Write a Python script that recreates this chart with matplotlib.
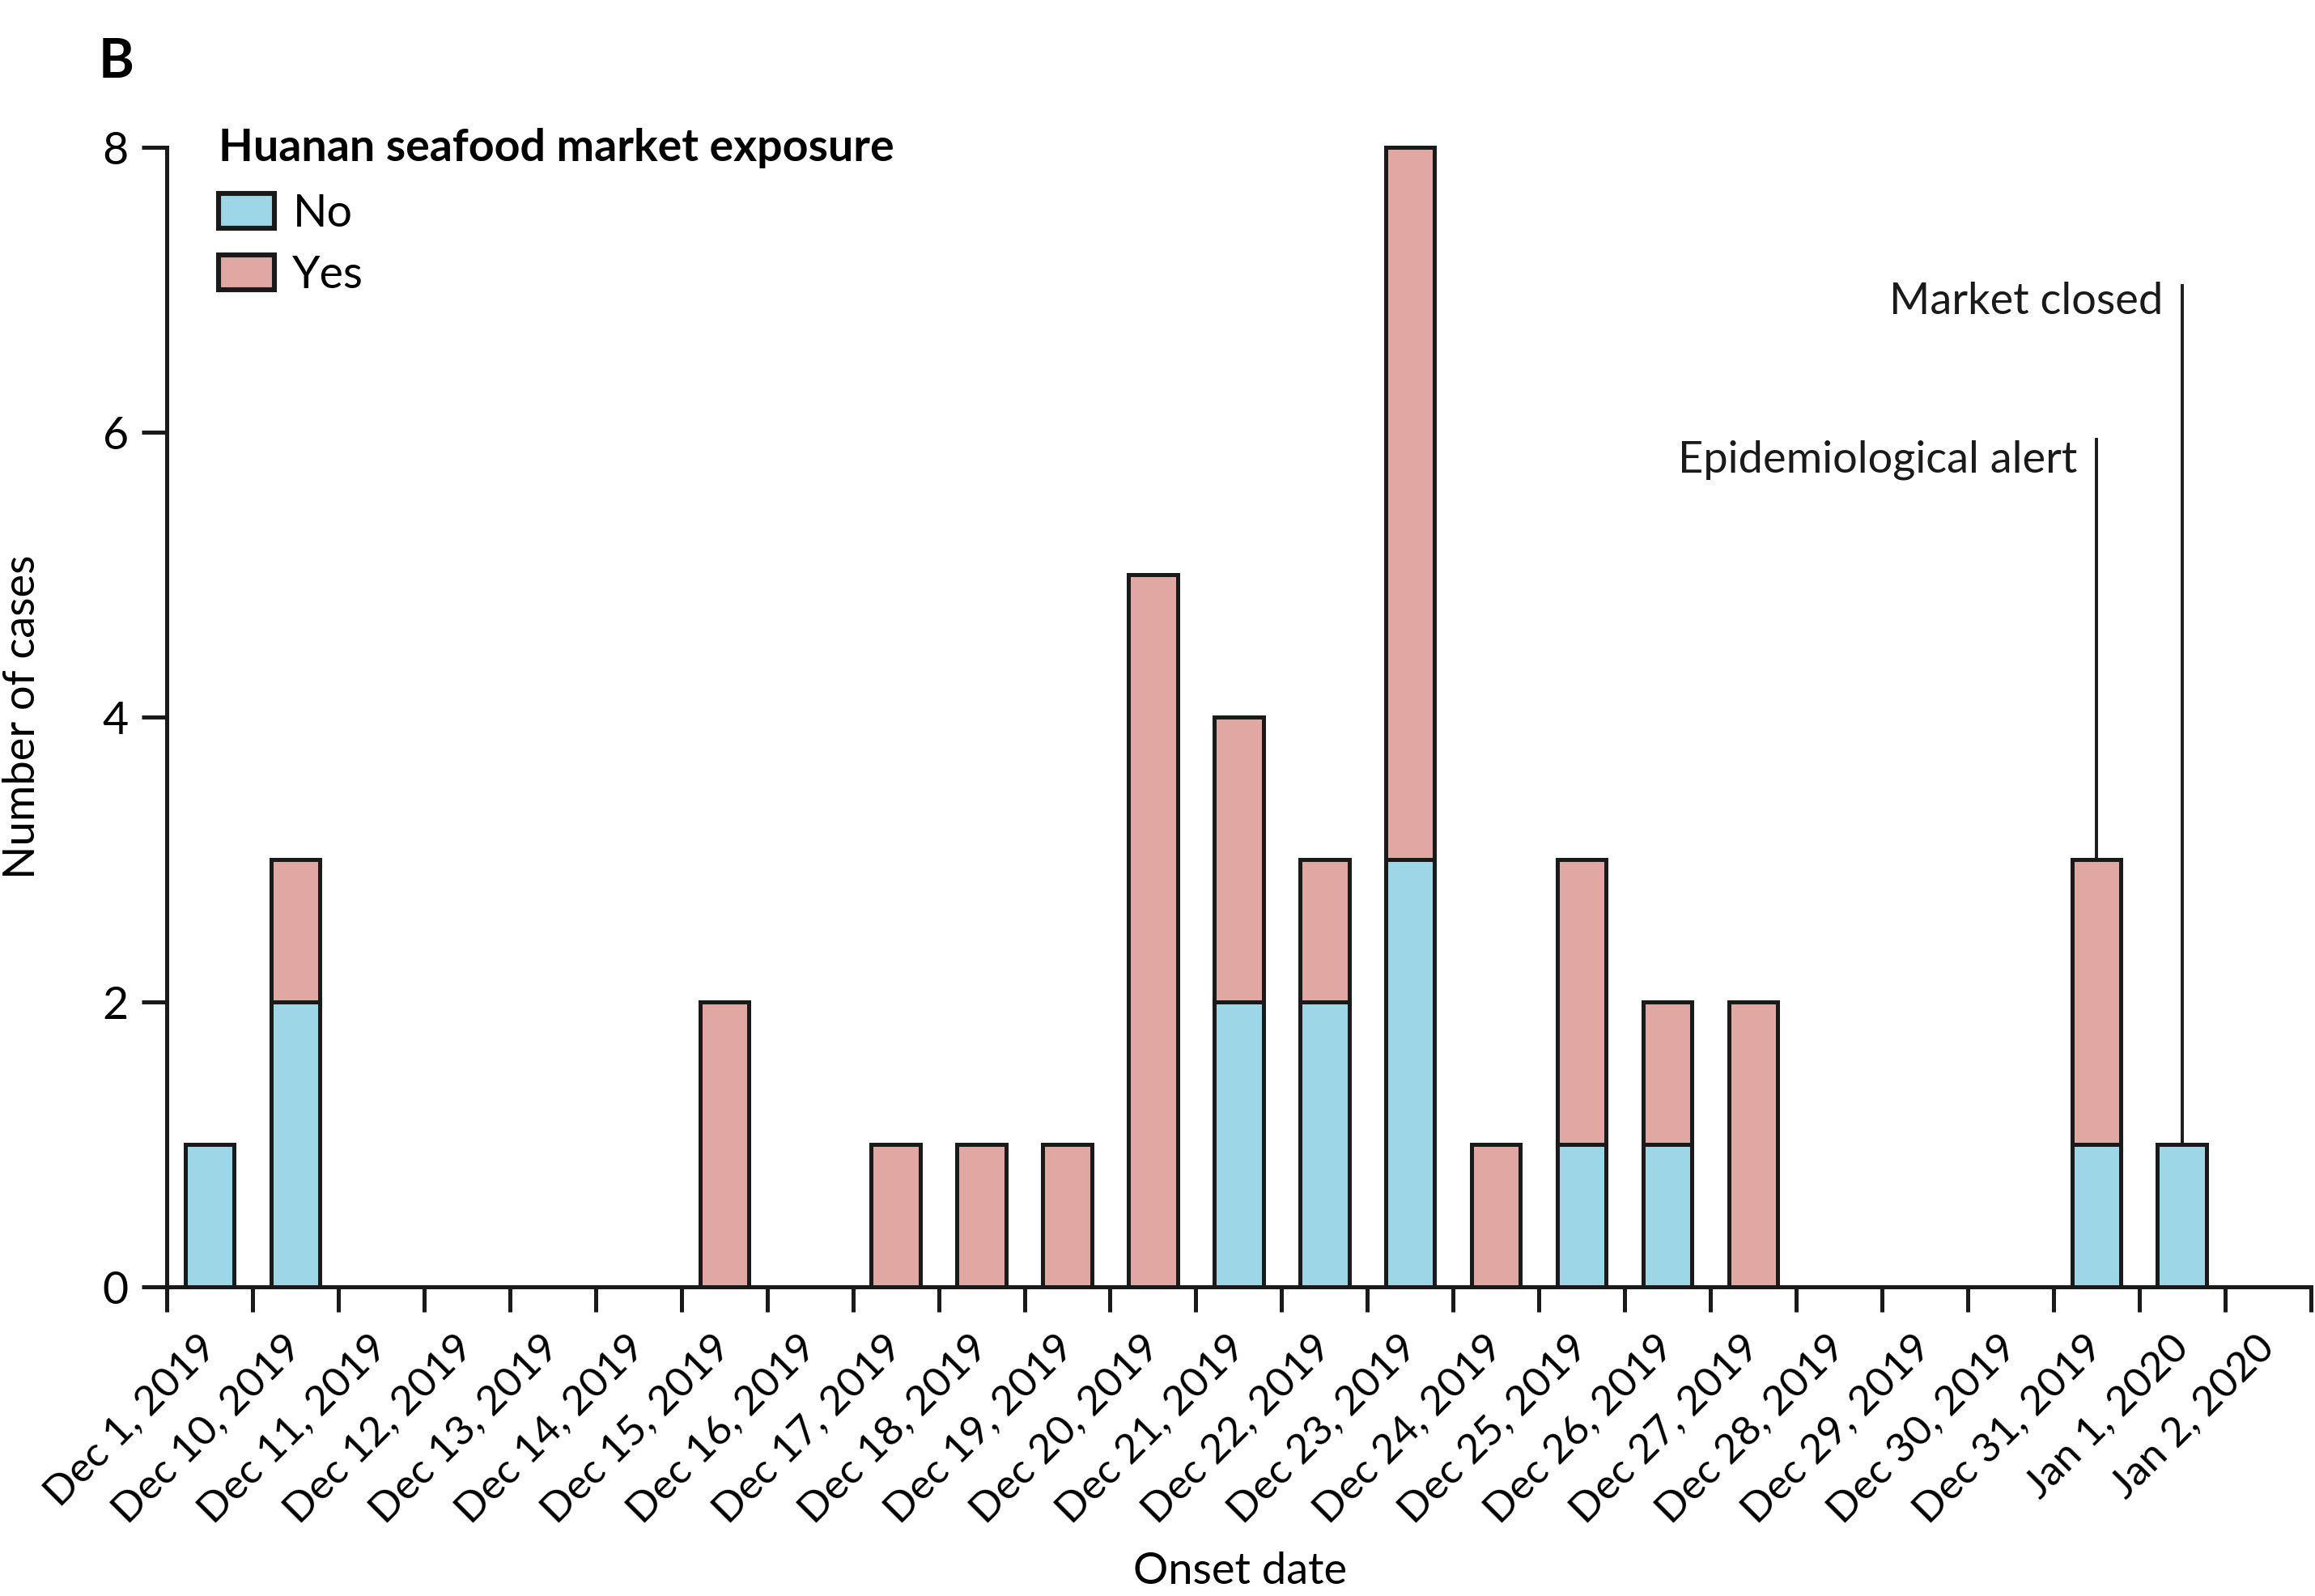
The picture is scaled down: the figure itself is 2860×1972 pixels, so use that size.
import matplotlib
matplotlib.use("Agg")
import matplotlib.pyplot as plt
import numpy as np

plt.rcParams['font.family'] = ['Lato', 'DejaVu Sans']

dates = ['Dec 1, 2019', 'Dec 10, 2019', 'Dec 11, 2019', 'Dec 12, 2019', 'Dec 13, 2019',
         'Dec 14, 2019', 'Dec 15, 2019', 'Dec 16, 2019', 'Dec 17, 2019', 'Dec 18, 2019',
         'Dec 19, 2019', 'Dec 20, 2019', 'Dec 21, 2019', 'Dec 22, 2019', 'Dec 23, 2019',
         'Dec 24, 2019', 'Dec 25, 2019', 'Dec 26, 2019', 'Dec 27, 2019', 'Dec 28, 2019',
         'Dec 29, 2019', 'Dec 30, 2019', 'Dec 31, 2019', 'Jan 1, 2020', 'Jan 2, 2020']
no_exposure = [1, 2, 0, 0, 0, 0, 0, 0, 0, 0, 0, 0, 2, 2, 3, 0, 1, 1, 0, 0, 0, 0, 1, 1, 0]
yes_exposure = [0, 1, 0, 0, 0, 0, 2, 0, 1, 1, 1, 5, 2, 1, 5, 1, 2, 1, 2, 0, 0, 0, 2, 0, 0]

events = ['Epidemiological alert', 'Market closed']
event_dates = ['Dec 31, 2019', 'Jan 1, 2020']

blue = '#9dd6e7'
pink = '#e0a7a3'
ink = '#1a1a1a'
lw = 1.8

fig = plt.figure(figsize=(14.3, 9.86), dpi=200)
ax = fig.add_axes([0.0721, 0.1935, 0.926, 0.714])

no = np.array(no_exposure)
yes = np.array(yes_exposure)
centers = np.arange(len(dates)) + 0.5

# only draw non-zero segments so empty days stay blank
mask_no = no > 0
mask_yes = yes > 0
b_no = ax.bar(centers[mask_no], no[mask_no], width=0.57, color=blue,
              edgecolor=ink, linewidth=lw, label='No', clip_on=False, zorder=2)
b_yes = ax.bar(centers[mask_yes], yes[mask_yes], bottom=no[mask_yes], width=0.57,
               color=pink, edgecolor=ink, linewidth=lw, label='Yes',
               clip_on=False, zorder=2)

totals = no + yes
ev_tops = [5.95, 7.03]
ev_text_y = [5.72, 6.83]
for name, d, top, ty in zip(events, event_dates, ev_tops, ev_text_y):
    i = dates.index(d)
    ax.plot([centers[i], centers[i]], [totals[i], top], color=ink,
            linewidth=1.4, clip_on=False, zorder=3)
    ax.text(centers[i] - 0.22, ty, name, ha='right', va='baseline', fontsize=19.5,
            color=ink)

ax.set_xlim(0, len(dates))
ax.set_ylim(0, 8)
ax.set_yticks([0, 2, 4, 6, 8])
ax.set_xticks(np.arange(len(dates) + 1))
ax.set_xticklabels([])
ax.set_xticks(centers, minor=True)
ax.set_xticklabels(dates, minor=True, rotation=45, ha='right', va='center',
                   rotation_mode='anchor', fontsize=18.5)

for s in ['top', 'right']:
    ax.spines[s].set_visible(False)
for s in ['left', 'bottom']:
    ax.spines[s].set_linewidth(lw)
    ax.spines[s].set_color(ink)

ax.tick_params(axis='both', which='major', direction='out', length=11, width=lw,
               color=ink)
ax.tick_params(axis='y', labelsize=20, pad=6)
ax.tick_params(axis='x', which='minor', length=0, pad=24)

leg = ax.legend(handles=[b_no, b_yes], title='Huanan seafood market exposure',
                loc='upper left', bbox_to_anchor=(0.024, 1.017), frameon=False,
                fontsize=20, title_fontproperties={'weight': 'bold', 'size': 20},
                alignment='left', borderpad=0, borderaxespad=0, handlelength=1.25,
                handleheight=0.8, handletextpad=0.4, labelspacing=0.45)
leg._legend_box.sep = 11
for h in leg.legend_handles:
    h.set_linewidth(2.2)

fig.text(0.0096, 0.551, 'Number of cases', rotation=90, ha='center', va='center',
         fontsize=19.5)
fig.text(0.5357, 0.0157, 'Onset date', ha='center', va='center', fontsize=19.5)
fig.text(0.0427, 0.961, 'B', ha='left', va='center', fontsize=24, fontweight='bold')

fig.savefig('out.png', dpi=200)
